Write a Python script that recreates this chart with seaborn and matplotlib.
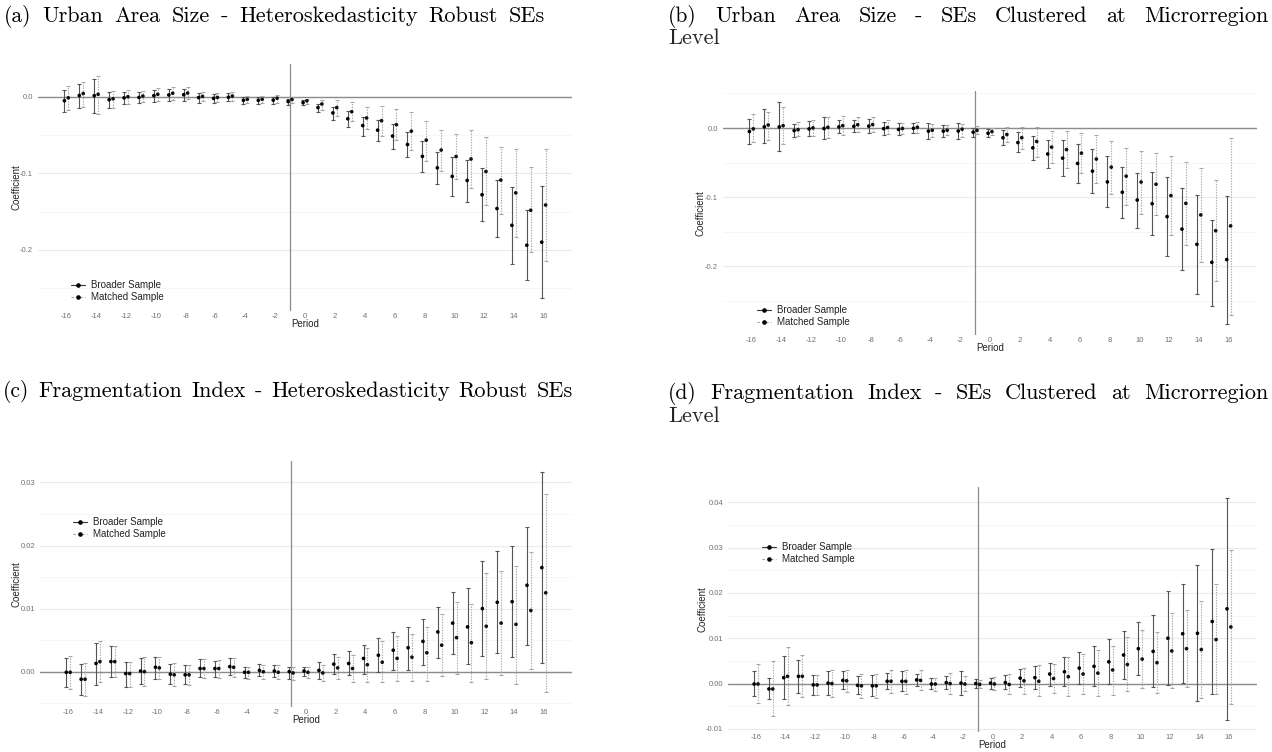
import matplotlib
matplotlib.use("Agg")
import matplotlib.pyplot as plt
from matplotlib.lines import Line2D
import numpy as np
import pandas as pd
import seaborn as sns

# ---------------- data ----------------
periods = list(range(-16, 17))

urban_broad_coef = [-0.005, 0.0018, 0.0016, -0.0037, -0.0013, -0.0007, 0.0016, 0.0025, 0.0028, -0.0009,
                    -0.002, -0.0005, -0.0045, -0.0045, -0.0043, -0.006, -0.0075, -0.014, -0.021, -0.0286,
                    -0.0375, -0.0435, -0.0512, -0.0623, -0.0778, -0.0928, -0.104, -0.1093, -0.128, -0.146,
                    -0.168, -0.194, -0.190]
urban_matched_coef = [-0.0012, 0.0044, 0.0034, -0.0025, 0.0002, 0.0011, 0.0034, 0.0048, 0.005, 0.0007,
                      -0.0007, 0.0011, -0.0032, -0.0032, -0.0017, -0.0034, -0.0052, -0.0093, -0.014, -0.0194,
                      -0.0276, -0.0311, -0.0363, -0.0448, -0.0565, -0.0695, -0.078, -0.0812, -0.0976, -0.1088,
                      -0.1255, -0.1483, -0.1414]

a_broad_hi = [0.0087, 0.017, 0.0235, 0.006, 0.006, 0.006, 0.0096, 0.0105, 0.0105, 0.005, 0.0035, 0.005,
              -0.0004, -0.0004, 0.0, -0.0026, -0.0044, -0.0087, -0.0135, -0.019, -0.026, -0.030, -0.0349,
              -0.046, -0.0575, -0.0723, -0.079, -0.082, -0.093, -0.109, -0.118, -0.148, -0.117]
a_broad_lo = [-0.020, -0.0144, -0.021, -0.0144, -0.0096, -0.008, -0.007, -0.006, -0.0057, -0.008, -0.008,
              -0.006, -0.009, -0.009, -0.0096, -0.010, -0.011, -0.020, -0.030, -0.039, -0.0505, -0.0575,
              -0.068, -0.079, -0.098, -0.114, -0.130, -0.137, -0.1625, -0.1834, -0.218, -0.240, -0.2636]
a_matched_hi = [0.014, 0.0196, 0.027, 0.0074, 0.0087, 0.008, 0.011, 0.0126, 0.0126, 0.0065, 0.005, 0.0065,
                0.0009, 0.0009, 0.0022, 0.0, -0.0026, -0.0035, -0.0044, -0.007, -0.0135, -0.0113, -0.0161,
                -0.0192, -0.031, -0.0427, -0.048, -0.0436, -0.052, -0.0655, -0.068, -0.092, -0.068]
a_matched_lo = [-0.0174, -0.0135, -0.022, -0.0144, -0.009, -0.007, -0.0057, -0.0035, -0.0026, -0.0057,
                -0.007, -0.0057, -0.008, -0.008, -0.008, -0.008, -0.0096, -0.0174, -0.0244, -0.0318,
                -0.0418, -0.0514, -0.057, -0.070, -0.0832, -0.0972, -0.108, -0.119, -0.142, -0.153,
                -0.183, -0.203, -0.215]

b_broad_hi = [0.013, 0.027, 0.0375, 0.0058, 0.010, 0.0154, 0.011, 0.0115, 0.0125, 0.0087, 0.0067, 0.0072,
              0.0077, 0.0038, 0.0077, 0.0005, -0.0019, -0.0034, -0.0063, -0.011, -0.0178, -0.0178, -0.0236,
              -0.0308, -0.041, -0.0558, -0.065, -0.064, -0.0702, -0.087, -0.0966, -0.1322, -0.0981]
b_broad_lo = [-0.023, -0.022, -0.033, -0.013, -0.0115, -0.0159, -0.0067, -0.0058, -0.0067, -0.0096, -0.0096,
              -0.0077, -0.0163, -0.013, -0.0154, -0.0135, -0.0125, -0.025, -0.035, -0.0457, -0.0572, -0.0688,
              -0.0793, -0.094, -0.1144, -0.130, -0.1438, -0.1543, -0.1846, -0.2048, -0.240, -0.2572, -0.283]
b_matched_hi = [0.0197, 0.0236, 0.031, 0.0087, 0.012, 0.0154, 0.018, 0.016, 0.016, 0.011, 0.0077, 0.0087,
                0.0058, 0.0038, 0.0058, 0.0024, 0.0005, 0.0019, 0.0019, 0.0019, -0.0038, -0.0038, -0.0067,
                -0.0106, -0.0183, -0.0284, -0.0332, -0.0365, -0.0399, -0.0486, -0.0572, -0.0755, -0.0144]
b_matched_lo = [-0.0207, -0.018, -0.0236, -0.012, -0.011, -0.014, -0.010, -0.0053, -0.0053, -0.0087, -0.0087,
                -0.0067, -0.0125, -0.0106, -0.0125, -0.0087, -0.0096, -0.020, -0.0298, -0.0413, -0.051,
                -0.058, -0.0654, -0.080, -0.0957, -0.1106, -0.1236, -0.126, -0.155, -0.1688, -0.1938,
                -0.2212, -0.2697]

frag_broad_coef = [-0.0001, -0.0012, 0.0013, 0.0016, -0.0003, 0.0001, 0.0007, -0.0004, -0.0005, 0.0005,
                   0.0005, 0.0008, -0.0001, 0.0002, 0.0001, 0.0, 0.0001, 0.0002, 0.0012, 0.0013, 0.0021,
                   0.0026, 0.0034, 0.0038, 0.0048, 0.0063, 0.0077, 0.0071, 0.010, 0.011, 0.0111, 0.0137, 0.0165]
frag_matched_coef = [-0.0001, -0.0012, 0.0016, 0.0016, -0.0003, 0.0, 0.0006, -0.0005, -0.0005, 0.0005,
                     0.0005, 0.0007, -0.0001, 0.0, -0.0001, -0.0002, -0.0001, -0.0002, 0.0006, 0.0005,
                     0.0011, 0.0015, 0.0021, 0.0023, 0.003, 0.0042, 0.0054, 0.0046, 0.0072, 0.0077,
                     0.0075, 0.0097, 0.0125]

c_broad_hi = [0.0022, 0.0012, 0.0046, 0.004, 0.0016, 0.0022, 0.0023, 0.0012, 0.001, 0.002, 0.0017, 0.0022,
              0.0008, 0.0012, 0.0011, 0.0008, 0.0008, 0.0015, 0.0028, 0.0032, 0.0043, 0.0053, 0.0063, 0.0071,
              0.0084, 0.0103, 0.0127, 0.0132, 0.0175, 0.0191, 0.0199, 0.0229, 0.0316]
c_broad_lo = [-0.0024, -0.0037, -0.0021, -0.0009, -0.0024, -0.002, -0.0011, -0.002, -0.002, -0.0008,
              -0.0008, -0.0006, -0.001, -0.0007, -0.0009, -0.0011, -0.0007, -0.0011, -0.0004, -0.0006,
              -0.0003, -0.0001, 0.0003, 0.0003, 0.0011, 0.0022, 0.0028, 0.0012, 0.0025, 0.0029, 0.0023,
              0.0043, 0.0013]
c_matched_hi = [0.0025, 0.0013, 0.0049, 0.0041, 0.0016, 0.0023, 0.0023, 0.0013, 0.001, 0.002, 0.0018,
                0.0022, 0.0007, 0.0011, 0.001, 0.0008, 0.0007, 0.0011, 0.0024, 0.0026, 0.0038, 0.0048,
                0.0056, 0.0059, 0.0071, 0.0091, 0.0111, 0.0108, 0.0156, 0.0159, 0.0167, 0.019, 0.0281]
c_matched_lo = [-0.0028, -0.0038, -0.0017, -0.0009, -0.0024, -0.0022, -0.0012, -0.0023, -0.0021, -0.001,
                -0.001, -0.0008, -0.0012, -0.0011, -0.0011, -0.0013, -0.001, -0.0015, -0.0012, -0.0016,
                -0.0016, -0.0017, -0.0015, -0.0014, -0.0014, -0.0007, -0.0004, -0.0016, -0.0012, -0.0005,
                -0.0019, 0.0004, -0.0033]

d_broad_hi = [0.0028, 0.0013, 0.006, 0.0052, 0.0019, 0.0027, 0.0027, 0.0016, 0.0018, 0.0024, 0.0027, 0.0022,
              0.0013, 0.0016, 0.0027, 0.001, 0.0013, 0.0018, 0.0033, 0.0039, 0.0046, 0.0058, 0.0069, 0.0082,
              0.0098, 0.0115, 0.0135, 0.0151, 0.0204, 0.0219, 0.0261, 0.0297, 0.041]
d_broad_lo = [-0.0028, -0.0035, -0.0035, -0.002, -0.0026, -0.0025, -0.0013, -0.0024, -0.0027, -0.0013,
              -0.0017, -0.0006, -0.0013, -0.0011, -0.0026, -0.001, -0.0011, -0.0013, -0.0008, -0.0011,
              -0.0005, -0.0006, -0.0001, -0.0006, -0.0001, 0.0011, 0.0018, -0.0007, -0.0004, 0.0001,
              -0.0039, -0.0024, -0.0081]
d_matched_hi = [0.0043, 0.005, 0.0081, 0.0062, 0.0019, 0.0031, 0.0031, 0.0022, 0.002, 0.0031, 0.0031,
                0.0031, 0.0013, 0.0024, 0.0016, 0.0007, 0.0015, 0.002, 0.0035, 0.0041, 0.0044, 0.0059,
                0.0066, 0.0073, 0.0084, 0.0102, 0.0119, 0.0114, 0.0155, 0.0162, 0.0183, 0.0219, 0.0295]
d_matched_lo = [-0.0044, -0.0072, -0.0048, -0.003, -0.0026, -0.003, -0.0018, -0.0031, -0.0032, -0.002,
                -0.0022, -0.0015, -0.0016, -0.0022, -0.0016, -0.0009, -0.0015, -0.0022, -0.0022, -0.0028,
                -0.0021, -0.0027, -0.0022, -0.0027, -0.0026, -0.0017, -0.001, -0.0021, -0.001, -0.0008,
                -0.0033, -0.0022, -0.0046]

series_labels = ["Broader Sample", "Matched Sample"]
x_ticks = list(range(-16, 17, 2))
x_ticklabels = [str(t) for t in x_ticks]

titles = {
    "a": ("(a)", "Urban Area Size - Heteroskedasticity Robust SEs", None),
    "b": ("(b)", "Urban Area Size - SEs Clustered at Microrregion", "Level"),
    "c": ("(c)", "Fragmentation Index - Heteroskedasticity Robust SEs", None),
    "d": ("(d)", "Fragmentation Index - SEs Clustered at Microrregion", "Level"),
}

# ---------------- style ----------------
sns.set_theme(style="white")
plt.rcParams["font.family"] = ["Liberation Sans", "DejaVu Sans"]
SERIF = ["cmr10", "DejaVu Serif"]
plt.rcParams["axes.unicode_minus"] = False

W, H = 1272, 752
fig = plt.figure(figsize=(W / 100, H / 100), dpi=100)


def fx(px):
    return px / W


def fy(py):
    return 1 - py / H


panels = [
    dict(key="a", box=(38, 64, 572, 311), ylim=(-0.28, 0.043),
         yticks=[0.0, -0.1, -0.2], ylabs=["0.0", "-0.1", "-0.2"], minor=[-0.05, -0.15, -0.25],
         coef=(urban_broad_coef, urban_matched_coef),
         ci=((a_broad_lo, a_broad_hi), (a_matched_lo, a_matched_hi)),
         leg=(71, 280), ylab_off=22),
    dict(key="b", box=(723, 91, 1257, 335), ylim=(-0.299, 0.0535),
         yticks=[0.0, -0.1, -0.2], ylabs=["0.0", "-0.1", "-0.2"], minor=[0.05, -0.05, -0.15, -0.25],
         coef=(urban_broad_coef, urban_matched_coef),
         ci=((b_broad_lo, b_broad_hi), (b_matched_lo, b_matched_hi)),
         leg=(757, 305), ylab_off=22),
    dict(key="c", box=(40, 461, 572, 707), ylim=(-0.0056, 0.0334),
         yticks=[0.0, 0.01, 0.02, 0.03], ylabs=["0.00", "0.01", "0.02", "0.03"],
         minor=[-0.005, 0.005, 0.015, 0.025],
         coef=(frag_broad_coef, frag_matched_coef),
         ci=((c_broad_lo, c_broad_hi), (c_matched_lo, c_matched_hi)),
         leg=(73, 517), ylab_off=24),
    dict(key="d", box=(728, 487, 1257, 732), ylim=(-0.0107, 0.0434),
         yticks=[-0.01, 0.0, 0.01, 0.02, 0.03, 0.04],
         ylabs=["-0.01", "0.00", "0.01", "0.02", "0.03", "0.04"],
         minor=[-0.005, 0.005, 0.015, 0.025, 0.035],
         coef=(frag_broad_coef, frag_matched_coef),
         ci=((d_broad_lo, d_broad_hi), (d_matched_lo, d_matched_hi)),
         leg=(762, 542), ylab_off=26),
]

DODGE = 0.13
bar_styles = [dict(color="#555555", ls="-"), dict(color="#a8a8a8", ls=(0, (1.2, 1.2)))]

for p in panels:
    x0, y0, x1, y1 = p["box"]
    ax = fig.add_axes([fx(x0), fy(y1), (x1 - x0) / W, (y1 - y0) / H])
    axw, axh = x1 - x0, y1 - y0
    ax.set_facecolor("white")
    for s in ax.spines.values():
        s.set_visible(False)

    # grid
    for v in p["yticks"]:
        ax.axhline(v, color="#ebebeb", lw=0.8, zorder=0)
    for v in p["minor"]:
        ax.axhline(v, color="#f3f3f3", lw=0.5, zorder=0)

    ax.axhline(0, color="#8c8c8c", lw=1.0, zorder=1)
    ax.axvline(-1, color="#8c8c8c", lw=0.9, zorder=1)

    frames = []
    for i, (lab, coef, (lo, hi)) in enumerate(zip(series_labels, p["coef"], p["ci"])):
        off = -DODGE if i == 0 else DODGE
        df = pd.DataFrame({"period": periods, "coef": coef, "lo": lo, "hi": hi, "sample": lab})
        df["xpos"] = df["period"] + off
        frames.append(df)
        st = bar_styles[i]
        eb = ax.errorbar(df["xpos"], df["coef"],
                         yerr=[df["coef"] - df["lo"], df["hi"] - df["coef"]],
                         fmt="none", ecolor=st["color"], elinewidth=0.8, capsize=1.4,
                         capthick=0.8, zorder=2)
        eb[2][0].set_linestyle(st["ls"])
    long = pd.concat(frames, ignore_index=True)
    sns.scatterplot(data=long, x="xpos", y="coef", hue="sample",
                    palette=["black", "#111111"], s=7, linewidth=0, marker="o",
                    legend=False, ax=ax, zorder=3)

    ax.set_xlim(-17.9, 17.9)
    ax.set_ylim(*p["ylim"])
    ax.set_xticks(x_ticks)
    ax.set_xticklabels(x_ticklabels)
    ax.set_yticks(p["yticks"])
    ax.set_yticklabels(p["ylabs"])
    ax.tick_params(axis="both", length=0, labelsize=5.5, colors="#707070")
    ax.tick_params(axis="x", pad=1.5)
    ax.tick_params(axis="y", pad=3.5)
    ax.grid(False)

    ax.set_xlabel("Period", fontsize=7, color="#222222")
    ax.set_ylabel("Coefficient", fontsize=7, color="#222222")
    ax.xaxis.set_label_coords(0.5, -13 / axh)
    ax.xaxis.label.set_va("center")
    ax.yaxis.set_label_coords(-p["ylab_off"] / axw, 0.5)
    ax.yaxis.label.set_va("center")

    handles = [
        Line2D([], [], color="#333333", lw=0.8, ls="-", marker="o", markersize=2.3,
               markerfacecolor="black", markeredgecolor="black"),
        Line2D([], [], color="#999999", lw=0.8, ls=(0, (2, 2)), marker="o", markersize=2.3,
               markerfacecolor="black", markeredgecolor="black"),
    ]
    lx, ly = p["leg"]
    ax.legend(handles, series_labels, loc="upper left", bbox_to_anchor=(fx(lx), fy(ly)),
              bbox_transform=fig.transFigure, frameon=False,
              handlelength=1.45, handletextpad=0.6, labelspacing=0.25,
              borderpad=0, borderaxespad=0, prop={"family": ["Liberation Sans"], "size": 7})
    leg = ax.get_legend()
    for t in leg.get_texts():
        t.set_color("#222222")

# ---------------- titles ----------------
renderer = fig.canvas.get_renderer()
LAB_SIZE = 15.5
CAP_SIZE = 16.0


def width_px(t):
    return t.get_window_extent(renderer=renderer).width


def draw_title(label, caption, x_start, x_end, base_y, justify):
    words = [(label, LAB_SIZE)] + [(w, CAP_SIZE) for w in caption.split(" ")]
    objs = []
    for w, sz in words:
        t = fig.text(0, fy(base_y), w, fontsize=sz, family=SERIF, va="baseline",
                     ha="left", color="black")
        objs.append(t)
    widths = [width_px(t) for t in objs]
    gap = (x_end - x_start - sum(widths)) / (len(widths) - 1)
    if not justify:
        gap = max(min(gap, 11.0), 6.0)
    x = x_start
    for t, w in zip(objs, widths):
        t.set_x(fx(x))
        x += w + gap


draw_title(*titles["a"][:2], 4, 572, 22, False)
draw_title(*titles["b"][:2], 668, 1268, 22, True)
fig.text(fx(668), fy(44), titles["b"][2], fontsize=CAP_SIZE, family=SERIF, va="baseline")
draw_title(*titles["c"][:2], 3, 573, 397, False)
draw_title(*titles["d"][:2], 668, 1268, 399, True)
fig.text(fx(668), fy(422), titles["d"][2], fontsize=CAP_SIZE, family=SERIF, va="baseline")

fig.savefig("out.png", dpi=100, facecolor="white")
